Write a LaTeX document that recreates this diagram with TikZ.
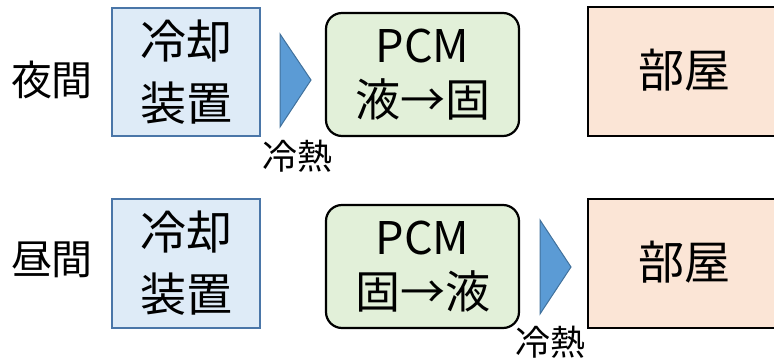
\documentclass[tikz,border=0pt]{standalone}
\usepackage{fontspec}
\setmainfont{Noto Sans CJK JP}
\definecolor{coolfill}{HTML}{DEEBF7}
\definecolor{coolline}{HTML}{4A76A8}
\definecolor{pcmfill}{HTML}{E2F0D9}
\definecolor{roomfill}{HTML}{FBE5D6}
\definecolor{arrfill}{HTML}{5B9BD5}
\definecolor{arrline}{HTML}{41719C}
\tikzset{
  coolbox/.style={draw=coolline, fill=coolfill, line width=2.5pt, minimum width=148pt, minimum height=128pt, inner sep=0pt, align=center, font=\fontsize{46}{62}\selectfont},
  pcmbox/.style={draw=black, fill=pcmfill, line width=2.2pt, rounded corners=16pt, minimum width=193pt, minimum height=123pt, inner sep=0pt, align=center, font=\fontsize{45}{54}\selectfont},
  roomtext/.style={font=\fontsize{46}{54}\selectfont, inner sep=0pt},
  sidelabel/.style={font=\fontsize{41}{48}\selectfont, inner sep=0pt},
  heatlabel/.style={font=\fontsize{35}{40}\selectfont, inner sep=0pt},
  flowtri/.style={fill=arrfill, draw=arrline, line width=1pt, line join=miter}
}
\begin{document}
\begin{tikzpicture}[x=1pt, y=-1pt]
\useasboundingbox (0,0) rectangle (774,361);
% night row
\node[sidelabel] (night) at (52,80) {夜間};
\node[coolbox] (cool1) at (186,72) {冷却\\装置};
\node[pcmbox] (pcm1) at (422.5,74.5) {PCM\\液→固};
\draw[black, line width=2.2pt, fill=roomfill] (800,7) -- (588,7) -- (588,136) -- (800,136);
\node[roomtext] (room1) at (684,70) {部屋};
\coordinate (t1a) at (280,34);
\coordinate (t1b) at (311,80);
\coordinate (t1c) at (280,127);
\draw[flowtri] (t1a) -- (t1b) -- (t1c) -- cycle;
\node[heatlabel] (heat1) at (297,156) {冷熱};
% day row
\node[sidelabel] (day) at (52,260) {昼間};
\node[coolbox, minimum height=129pt] (cool2) at (186,263.5) {冷却\\装置};
\node[pcmbox] (pcm2) at (422.5,266.5) {PCM\\固→液};
\draw[black, line width=2.2pt, fill=roomfill] (800,199) -- (588,199) -- (588,328) -- (800,328);
\node[roomtext] (room2) at (684,262) {部屋};
\coordinate (t2a) at (540,220);
\coordinate (t2b) at (571,267);
\coordinate (t2c) at (540,314);
\draw[flowtri] (t2a) -- (t2b) -- (t2c) -- cycle;
\node[heatlabel] (heat2) at (550,342) {冷熱};
\end{tikzpicture}
\end{document}
